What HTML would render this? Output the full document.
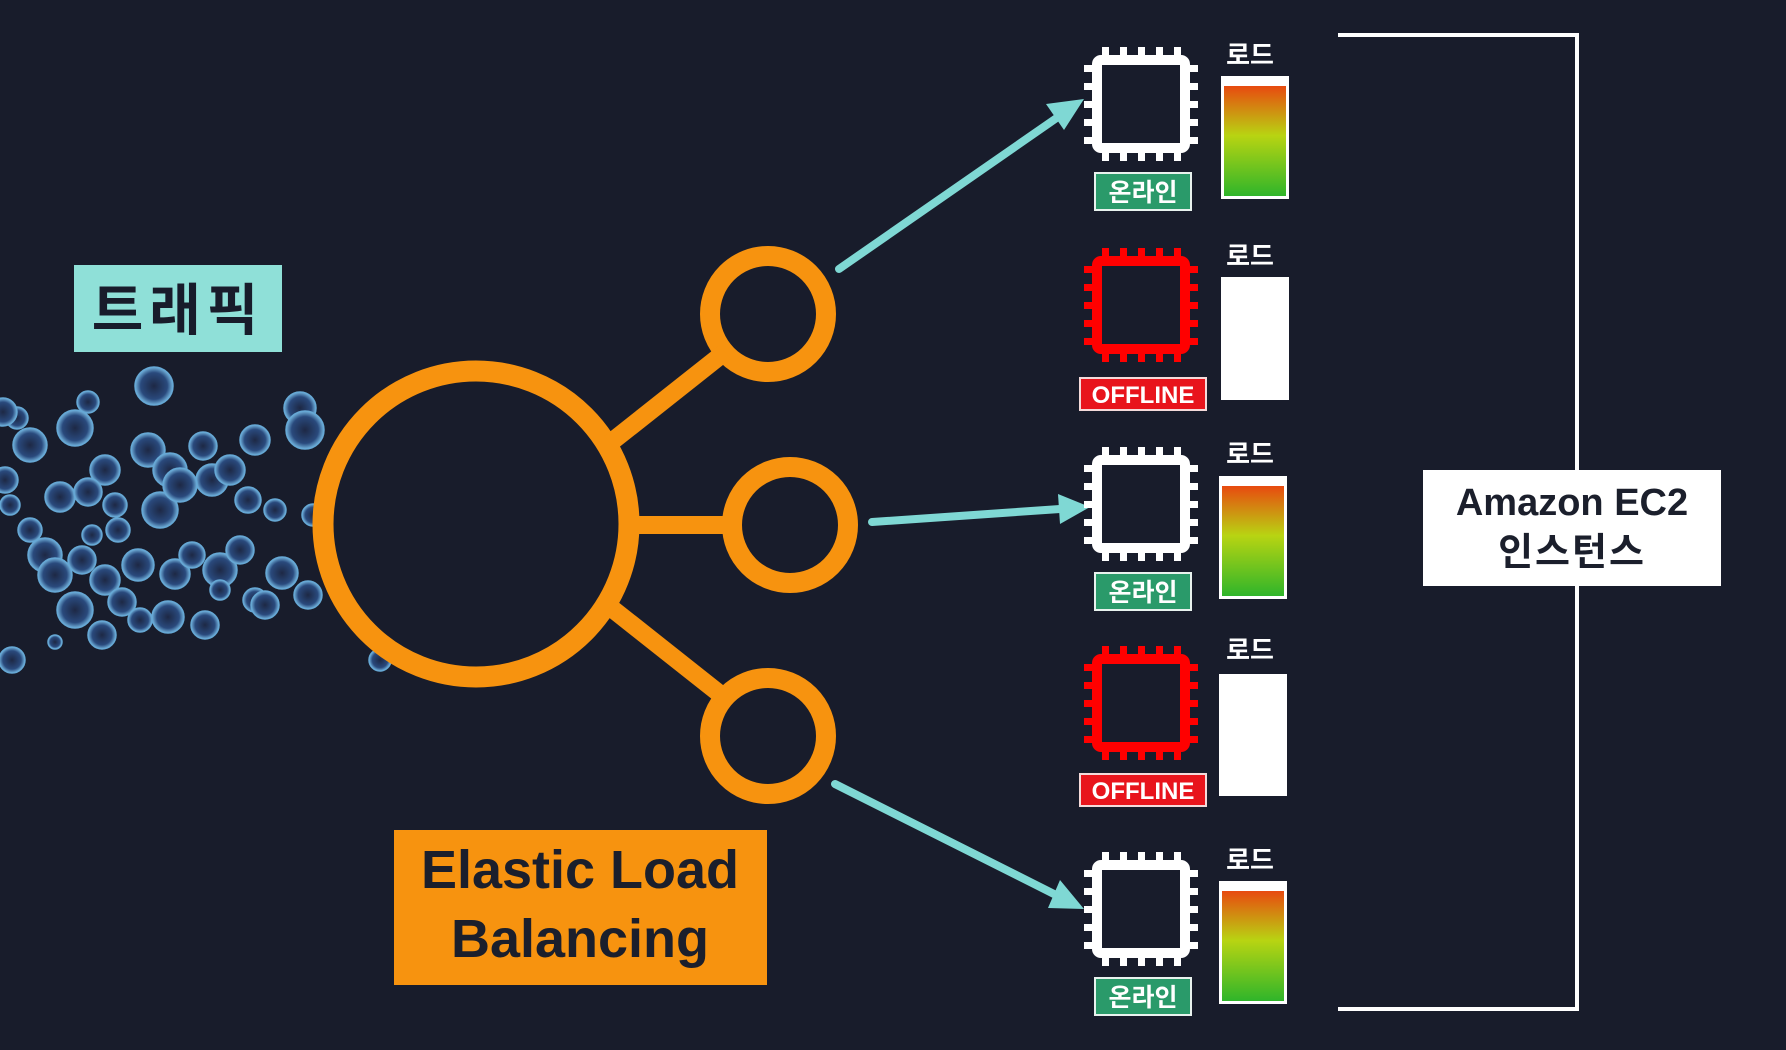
<!DOCTYPE html>
<html><head><meta charset="utf-8">
<style>
html,body{margin:0;padding:0;background:#181c2b;}
svg{display:block;}
.ko{font-family:"Liberation Sans","Noto Sans CJK KR",sans-serif;font-weight:bold;}
</style></head>
<body>
<svg width="1786" height="1050" viewBox="0 0 1786 1050" xmlns="http://www.w3.org/2000/svg">
<defs>
<g id="chipW">
  <rect x="13" y="13" width="88" height="88" rx="4" fill="#181c2b" stroke="#fff" stroke-width="10"/>
  <g fill="#fff">
    <rect x="18" y="0" width="7" height="12"/><rect x="36" y="0" width="7" height="12"/><rect x="54" y="0" width="7" height="12"/><rect x="72" y="0" width="7" height="12"/><rect x="90" y="0" width="7" height="12"/>
    <rect x="18" y="102" width="7" height="12"/><rect x="36" y="102" width="7" height="12"/><rect x="54" y="102" width="7" height="12"/><rect x="72" y="102" width="7" height="12"/><rect x="90" y="102" width="7" height="12"/>
    <rect y="18" x="0" height="7" width="12"/><rect y="36" x="0" height="7" width="12"/><rect y="54" x="0" height="7" width="12"/><rect y="72" x="0" height="7" width="12"/><rect y="90" x="0" height="7" width="12"/>
    <rect y="18" x="102" height="7" width="12"/><rect y="36" x="102" height="7" width="12"/><rect y="54" x="102" height="7" width="12"/><rect y="72" x="102" height="7" width="12"/><rect y="90" x="102" height="7" width="12"/>
  </g>
</g>
<g id="chipR">
  <rect x="13" y="13" width="88" height="88" rx="4" fill="#181c2b" stroke="#f00" stroke-width="10"/>
  <g fill="#f00">
    <rect x="18" y="0" width="7" height="12"/><rect x="36" y="0" width="7" height="12"/><rect x="54" y="0" width="7" height="12"/><rect x="72" y="0" width="7" height="12"/><rect x="90" y="0" width="7" height="12"/>
    <rect x="18" y="102" width="7" height="12"/><rect x="36" y="102" width="7" height="12"/><rect x="54" y="102" width="7" height="12"/><rect x="72" y="102" width="7" height="12"/><rect x="90" y="102" width="7" height="12"/>
    <rect y="18" x="0" height="7" width="12"/><rect y="36" x="0" height="7" width="12"/><rect y="54" x="0" height="7" width="12"/><rect y="72" x="0" height="7" width="12"/><rect y="90" x="0" height="7" width="12"/>
    <rect y="18" x="102" height="7" width="12"/><rect y="36" x="102" height="7" width="12"/><rect y="54" x="102" height="7" width="12"/><rect y="72" x="102" height="7" width="12"/><rect y="90" x="102" height="7" width="12"/>
  </g>
</g>
<linearGradient id="load" x1="0" y1="0" x2="0" y2="1">
  <stop offset="0" stop-color="#e84a10"/>
  <stop offset="0.45" stop-color="#b8d412"/>
  <stop offset="1" stop-color="#2fb52a"/>
</linearGradient>
<radialGradient id="bub" cx="0.5" cy="0.5" r="0.5">
  <stop offset="0" stop-color="#1e2a48"/>
  <stop offset="0.7" stop-color="#2c4f86"/>
  <stop offset="1" stop-color="#7cc3f0"/>
</radialGradient>
<g id="bar">
  <rect x="0" y="0" width="68" height="123" fill="#fff"/>
  <rect x="3" y="10" width="62" height="110" fill="url(#load)"/>
</g>
</defs>

<!-- bubbles -->
<g fill="url(#bub)" stroke="#6fb8e8" stroke-width="1.5" opacity="0.9">
<circle cx="154" cy="386" r="19"/><circle cx="88" cy="402" r="11"/><circle cx="75" cy="428" r="18"/>
<circle cx="30" cy="445" r="17"/><circle cx="17" cy="418" r="11"/><circle cx="3" cy="412" r="14"/>
<circle cx="105" cy="470" r="15"/><circle cx="148" cy="450" r="17"/><circle cx="170" cy="470" r="17"/>
<circle cx="203" cy="446" r="14"/><circle cx="212" cy="480" r="16"/><circle cx="230" cy="470" r="15"/>
<circle cx="255" cy="440" r="15"/><circle cx="300" cy="408" r="16"/><circle cx="305" cy="430" r="19"/>
<circle cx="5" cy="480" r="13"/><circle cx="10" cy="505" r="10"/><circle cx="60" cy="497" r="15"/>
<circle cx="88" cy="492" r="14"/><circle cx="115" cy="505" r="12"/><circle cx="160" cy="510" r="18"/>
<circle cx="180" cy="485" r="17"/><circle cx="248" cy="500" r="13"/><circle cx="275" cy="510" r="11"/>
<circle cx="313" cy="515" r="11"/><circle cx="45" cy="555" r="17"/><circle cx="55" cy="575" r="17"/>
<circle cx="82" cy="560" r="14"/><circle cx="105" cy="580" r="15"/><circle cx="138" cy="565" r="16"/>
<circle cx="175" cy="574" r="15"/><circle cx="192" cy="555" r="13"/><circle cx="220" cy="570" r="17"/>
<circle cx="240" cy="550" r="14"/><circle cx="282" cy="573" r="16"/><circle cx="308" cy="595" r="14"/>
<circle cx="75" cy="610" r="18"/><circle cx="122" cy="602" r="14"/><circle cx="168" cy="617" r="16"/>
<circle cx="205" cy="625" r="14"/><circle cx="255" cy="600" r="12"/><circle cx="265" cy="605" r="14"/>
<circle cx="55" cy="642" r="7"/><circle cx="102" cy="635" r="14"/><circle cx="140" cy="620" r="12"/>
<circle cx="220" cy="590" r="10"/><circle cx="12" cy="660" r="13"/><circle cx="380" cy="660" r="11"/>
<circle cx="118" cy="530" r="12"/><circle cx="92" cy="535" r="10"/><circle cx="30" cy="530" r="12"/>
</g>

<!-- traffic label -->
<rect x="74" y="265" width="208" height="87" fill="#8fe0d8"/>
<text x="178" y="330" text-anchor="middle" class="ko" font-size="56" fill="#181c2b" letter-spacing="6">트래픽</text>

<!-- ELB icon -->
<g fill="none" stroke="#f7930f">
  <circle cx="476" cy="524" r="153" stroke-width="21"/>
  <circle cx="768" cy="314" r="58" stroke-width="20"/>
  <circle cx="790" cy="525" r="58" stroke-width="20"/>
  <circle cx="768" cy="736" r="58" stroke-width="20"/>
  <line x1="610" y1="443" x2="725" y2="352" stroke-width="18"/>
  <line x1="630" y1="525" x2="734" y2="525" stroke-width="18"/>
  <line x1="610" y1="607" x2="725" y2="698" stroke-width="18"/>
</g>

<!-- ELB label -->
<rect x="394" y="830" width="373" height="155" fill="#f7930f"/>
<text x="580" y="888" text-anchor="middle" class="ko" font-size="54" fill="#1b1f2c">Elastic Load</text>
<text x="580" y="957" text-anchor="middle" class="ko" font-size="54" fill="#1b1f2c">Balancing</text>

<!-- arrows -->
<g stroke="#7fd8d4" stroke-width="8" fill="#7fd8d4" stroke-linecap="round">
  <line x1="839" y1="269" x2="1058" y2="117"/>
  <polygon points="1084,99 1046,104 1064,130" stroke="none"/>
  <line x1="872" y1="522" x2="1060" y2="509"/>
  <polygon points="1090,507 1058,494 1060,524" stroke="none"/>
  <line x1="835" y1="784" x2="1056" y2="895"/>
  <polygon points="1084,909 1060,880 1048,908" stroke="none"/>
</g>

<!-- rows -->
<g class="ko" font-size="26" fill="#fff">
  <use href="#chipW" x="1084" y="47"/>
  <text x="1250" y="64" text-anchor="middle">로드</text>
  <use href="#bar" x="1221" y="76"/>
  <rect x="1095" y="173" width="96" height="37" fill="#2a9a6a" stroke="#e8f2ee" stroke-width="2"/>
  <text x="1143" y="201" text-anchor="middle" font-size="25">온라인</text>

  <use href="#chipR" x="1084" y="248"/>
  <text x="1250" y="265" text-anchor="middle">로드</text>
  <rect x="1221" y="277" width="68" height="123" fill="#fff"/>
  <rect x="1080" y="378" width="126" height="32" fill="#e8141c" stroke="#f4dada" stroke-width="2"/>
  <text x="1143" y="403" text-anchor="middle" font-size="24">OFFLINE</text>

  <use href="#chipW" x="1084" y="447"/>
  <text x="1250" y="463" text-anchor="middle">로드</text>
  <use href="#bar" x="1219" y="476"/>
  <rect x="1095" y="573" width="96" height="37" fill="#2a9a6a" stroke="#e8f2ee" stroke-width="2"/>
  <text x="1143" y="601" text-anchor="middle" font-size="25">온라인</text>

  <use href="#chipR" x="1084" y="646"/>
  <text x="1250" y="659" text-anchor="middle">로드</text>
  <rect x="1219" y="674" width="68" height="122" fill="#fff"/>
  <rect x="1080" y="774" width="126" height="32" fill="#e8141c" stroke="#f4dada" stroke-width="2"/>
  <text x="1143" y="799" text-anchor="middle" font-size="24">OFFLINE</text>

  <use href="#chipW" x="1084" y="852"/>
  <text x="1250" y="869" text-anchor="middle">로드</text>
  <use href="#bar" x="1219" y="881"/>
  <rect x="1095" y="978" width="96" height="37" fill="#2a9a6a" stroke="#e8f2ee" stroke-width="2"/>
  <text x="1143" y="1006" text-anchor="middle" font-size="25">온라인</text>
</g>

<!-- bracket -->
<polyline points="1338,35 1577,35 1577,1009 1338,1009" fill="none" stroke="#fff" stroke-width="4"/>
<rect x="1423" y="470" width="298" height="116" fill="#fff"/>
<text x="1572" y="515" text-anchor="middle" class="ko" font-size="38" fill="#1b1f2c">Amazon EC2</text>
<text x="1572" y="565" text-anchor="middle" class="ko" font-size="38" fill="#1b1f2c" letter-spacing="2">인스턴스</text>
</svg>
</body></html>
